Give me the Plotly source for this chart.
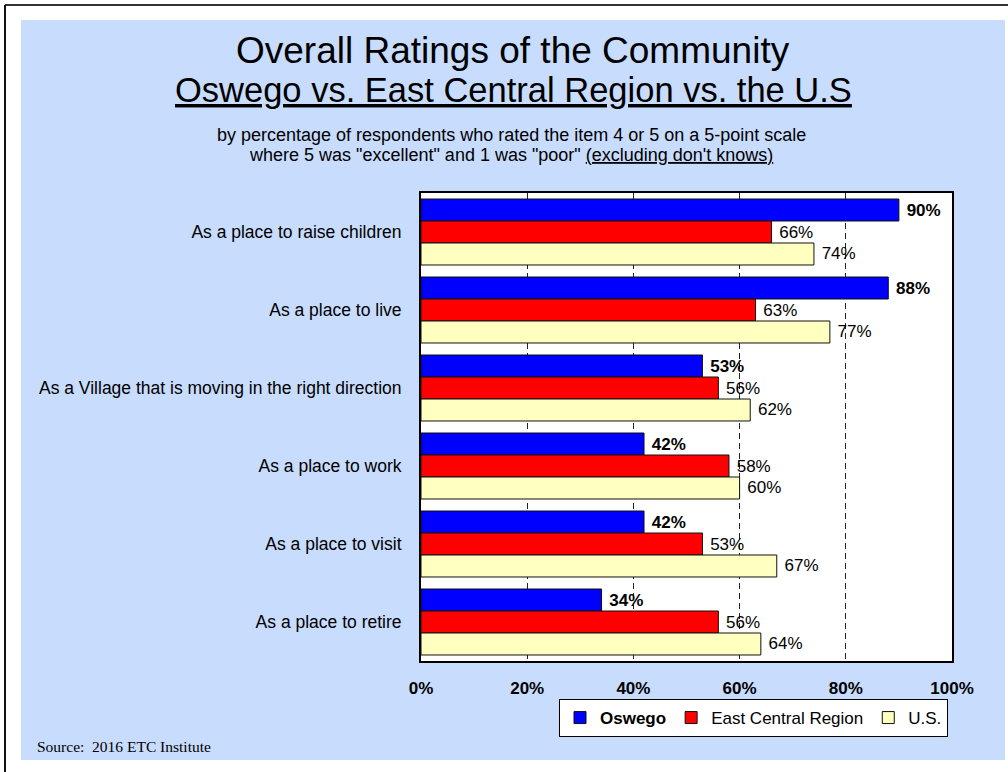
import plotly.graph_objects as go

# Survey items (top to bottom) and the share rating each 4 or 5
categories = [
    "As a place to raise children",
    "As a place to live",
    "As a Village that is moving in the right direction",
    "As a place to work",
    "As a place to visit",
    "As a place to retire",
]
oswego = [90, 88, 53, 42, 42, 34]
east_central = [66, 63, 56, 58, 53, 56]
us = [74, 77, 62, 60, 67, 64]

tick_vals = [0, 20, 40, 60, 80, 100]
tick_text = ["0%", "20%", "40%", "60%", "80%", "100%"]

W, H = 1008, 772
PLOT_L, PLOT_R, PLOT_T, PLOT_B = 421, 952, 193, 661
BLUE_BG = "#c8dcfe"
FONT = "Liberation Sans, Arial, sans-serif"


def px(x):
    return (x - PLOT_L) / (PLOT_R - PLOT_L)


def py(y):
    return (PLOT_B - y) / (PLOT_B - PLOT_T)


fig = go.Figure()

series = [
    ("<b>Oswego</b>", oswego, "#0000ff", True),
    ("East Central Region", east_central, "#ff0000", False),
    ("U.S.", us, "#ffffc0", False),
]
for name, vals, color, bold in series:
    labels = [(" <b>%d%%</b>" if bold else " %d%%") % v for v in vals]
    fig.add_trace(go.Bar(
        y=categories,
        x=vals,
        name=name,
        orientation="h",
        marker=dict(color=color, line=dict(color="#111111", width=1)),
        text=labels,
        texttemplate="%{text}",
        textposition="outside",
        textfont=dict(family=FONT, size=17, color="black"),
        constraintext="none",
        cliponaxis=False,
        hoverinfo="skip",
    ))

shapes = []
# white page margins around the blue panel
for x0, y0, x1, y1 in [(0, 0, W, 20), (0, 0, 21, H), (1005, 0, W, H), (0, 760, W, H)]:
    shapes.append(dict(type="rect", xref="paper", yref="paper",
                       x0=px(x0), x1=px(x1), y0=py(y0), y1=py(y1),
                       fillcolor="white", line=dict(width=0), layer="below"))
# dark page border lines (top and left)
shapes.append(dict(type="line", xref="paper", yref="paper",
                   x0=px(5), x1=px(W), y0=py(5), y1=py(5),
                   line=dict(color="#333333", width=2)))
shapes.append(dict(type="line", xref="paper", yref="paper",
                   x0=px(5), x1=px(5), y0=py(5), y1=py(H),
                   line=dict(color="#111111", width=2)))

annotations = [
    dict(text="Overall Ratings of the Community", x=px(513), y=py(50),
         font=dict(family=FONT, size=37, color="black")),
    dict(text="<u>Oswego vs. East Central Region vs. the U.S</u>", x=px(513), y=py(90),
         font=dict(family=FONT, size=34.5, color="black")),
    dict(text="by percentage of respondents who rated the item 4 or 5 on a 5-point scale",
         x=px(511), y=py(135), font=dict(family=FONT, size=18, color="black")),
    dict(text="where 5 was \"excellent\" and 1 was \"poor\" <u>(excluding don't knows)</u>",
         x=px(511), y=py(155), font=dict(family=FONT, size=18, color="black")),
    dict(text="Source:  2016 ETC Institute", x=px(35), y=py(746), xanchor="left",
         font=dict(family="Liberation Serif, Times New Roman, serif", size=15.5, color="black")),
]
for a in annotations:
    a.update(xref="paper", yref="paper", showarrow=False)
    a.setdefault("xanchor", "center")
    a["yanchor"] = "middle"

fig.update_layout(
    width=W, height=H,
    margin=dict(l=PLOT_L, r=W - PLOT_R, t=PLOT_T, b=H - PLOT_B, pad=0),
    paper_bgcolor=BLUE_BG,
    plot_bgcolor="white",
    barmode="group",
    bargap=0.154,
    bargroupgap=0,
    font=dict(family=FONT, size=17, color="black"),
    shapes=shapes,
    annotations=annotations,
    showlegend=True,
    legend=dict(
        orientation="h",
        x=px(948), xanchor="right",
        y=py(699), yanchor="top",
        bgcolor="white", bordercolor="black", borderwidth=1,
        font=dict(family=FONT, size=17, color="black"),
        traceorder="normal",
        itemwidth=30,
        tracegroupgap=0,
        itemclick=False, itemdoubleclick=False,
    ),
    xaxis=dict(
        range=[0, 100],
        tickvals=tick_vals, ticktext=tick_text,
        tickfont=dict(family=FONT, size=17, color="black", weight="bold"),
        showgrid=True, gridcolor="#222222", gridwidth=1, griddash="6px,4px",
        zeroline=False,
        showline=True, linecolor="black", linewidth=2, mirror=True,
        ticks="", ticklabelstandoff=11,
        fixedrange=True,
    ),
    yaxis=dict(
        autorange="reversed",
        tickfont=dict(family=FONT, size=17.5, color="black"),
        showgrid=False, zeroline=False,
        showline=True, linecolor="black", linewidth=2, mirror=True,
        ticks="", ticklabelstandoff=14,
        fixedrange=True,
    ),
)

fig.write_html("out.html", config=dict(displayModeBar=False))
